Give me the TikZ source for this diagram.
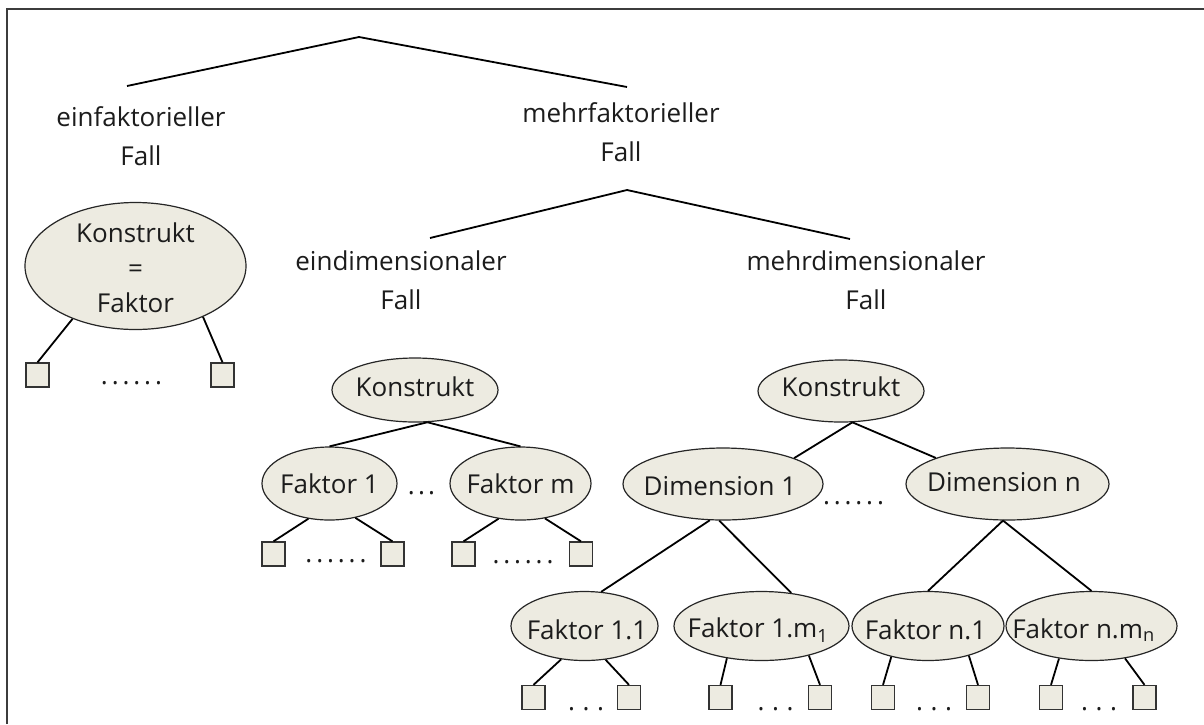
\documentclass[tikz,border=0pt]{standalone}
\usepackage{fontspec}
\setmainfont{Open Sans}
\usetikzlibrary{shapes.geometric}
\definecolor{fillc}{HTML}{EDEBE1}
\definecolor{txt}{HTML}{1C1C1C}
\definecolor{framec}{HTML}{3C3C3C}
\newcommand{\sixdots}{.\kern3.9pt.\kern3.9pt.\kern3.9pt.\kern3.9pt.\kern3.9pt.}
\newcommand{\threedots}{.\kern3.2pt.\kern3.2pt.}
\newcommand{\widedots}{.\kern7.6pt.\kern7.6pt.}
\tikzset{
  ell/.style={ellipse, draw=black!85, line width=1.2pt, fill=fillc, inner sep=0pt},
  lbl/.style={inner sep=0pt, text=txt, align=center, font=\fontsize{26}{39}\selectfont},
  elbl/.style={inner sep=0pt, text=txt, align=center, font=\fontsize{26}{35}\selectfont},
  sq/.style={rectangle, draw=black!80, line width=1.3pt, fill=fillc, minimum width=23pt, minimum height=24pt, inner sep=0pt},
  conn/.style={line width=1.8pt, black},
  dotsty/.style={inner sep=0pt, text=txt, font=\fontsize{26}{30}\selectfont},
  framel/.style={line width=2pt, framec}
}
\begin{document}
\begin{tikzpicture}[x=1pt, y=-1pt]
\useasboundingbox (0,0) rectangle (1204,724);
\fill[white] (0,0) rectangle (1204,724);
% frame
\coordinate (fr1) at (7,9);
\coordinate (fr2) at (1204,9);
\coordinate (fr3) at (7,724);
\draw[framel] (fr3) -- (fr1) -- (fr2);

% top level
\coordinate (apex1) at (359,37);
\coordinate (einfEnd) at (127,86);
\coordinate (mehrEnd) at (627,87);
\node[lbl] (einf) at (141,136) {einfaktorieller\\Fall};
\node[lbl] (mehrf) at (621,132) {mehrfaktorieller\\Fall};
\draw[conn] (einfEnd) -- (apex1) -- (mehrEnd);

\coordinate (apex2) at (627,190);
\coordinate (eindEnd) at (430,238);
\coordinate (mdimEnd) at (850,239);
\node[lbl] (eind) at (401,280) {eindimensionaler\\Fall};
\node[lbl] (mdim) at (866,280) {mehrdimensionaler\\Fall};
\draw[conn] (eindEnd) -- (apex2) -- (mdimEnd);

% einfaktorieller Fall
\node[ell, minimum width=221pt, minimum height=127pt] (e0) at (135.5,266) {};
\node[elbl] (e0t) at (135.5,268) {Konstrukt\\=\\Faktor};
\node[sq] (s01) at (37.5,375) {};
\node[sq] (s02) at (222.5,375) {};
\node[dotsty] (d0) at (131.5,383) {\sixdots};
\draw[conn] (e0.-140.7) -- (s01.north);
\draw[conn] (e0.-37.7) -- (s02.north);

% eindimensionaler Fall
\node[ell, minimum width=166pt, minimum height=64pt] (kons1) at (415,390) {};
\node[lbl] (kons1t) at (415,387) {Konstrukt};
\node[ell, minimum width=135pt, minimum height=73pt] (fa1) at (329.5,483.5) {};
\node[lbl] (fa1t) at (329.5,484) {Faktor 1};
\node[ell, minimum width=141pt, minimum height=73pt] (fam) at (520.5,483.5) {};
\node[lbl] (famt) at (520.5,484) {Faktor m};
\node[dotsty] (dm) at (421.5,493) {\threedots};
\draw[conn] (kons1.-69) -- (fa1.north);
\draw[conn] (kons1.-69) -- (fam.north);
\node[sq] (s11) at (273.5,554) {};
\node[sq] (s12) at (392.5,554) {};
\node[sq] (s21) at (463.5,554) {};
\node[sq] (s22) at (581,554) {};
\node[dotsty] (d1) at (336,561) {\sixdots};
\node[dotsty] (d2) at (523,562) {\sixdots};
\draw[conn] (fa1.-121) -- (s11.north);
\draw[conn] (fa1.-53) -- (s12.north);
\draw[conn] (fam.-122) -- (s21.north);
\draw[conn] (fam.-55) -- (s22.north);

% mehrdimensionaler Fall
\node[ell, minimum width=166pt, minimum height=62pt] (kons2) at (841,391) {};
\node[lbl] (kons2t) at (841,387) {Konstrukt};
\node[ell, minimum width=200pt, minimum height=72pt] (dim1) at (723,484) {};
\node[lbl] (dim1t) at (720,486) {Dimension 1};
\node[ell, minimum width=203pt, minimum height=72pt] (dimn) at (1007.5,484) {};
\node[lbl] (dimnt) at (1004,482) {Dimension n};
\node[dotsty] (dd) at (853.5,503) {\sixdots};
\draw[conn] (kons2.-70) -- (dim1.20);
\draw[conn] (kons2.-70) -- (dimn.160);

\node[ell, minimum width=147pt, minimum height=69pt] (f11) at (584.5,626) {};
\node[lbl] (f11t) at (587,630) {Faktor 1.1};
\node[ell, minimum width=175pt, minimum height=69pt] (f1m) at (761.5,626) {};
\node[lbl] (f1mt) at (758,630) {Faktor 1.m\textsubscript{1}};
\node[ell, minimum width=152pt, minimum height=69pt] (fn1) at (928,626) {};
\node[lbl] (fn1t) at (925.5,630) {Faktor n.1};
\node[ell, minimum width=171pt, minimum height=69pt] (fnm) at (1091.5,626) {};
\node[lbl] (fnmt) at (1083.5,630) {Faktor n.m\textsubscript{n}};

\draw[conn] (dim1.-110) -- (f11.64);
\draw[conn] (dim1.-96) -- (f1m.48);
\draw[conn] (dimn.-97) -- (fn1.north);
\draw[conn] (dimn.-97) -- (fnm.north);

\node[sq] (s31) at (533.5,697.5) {};
\node[sq] (s32) at (629,697.5) {};
\node[sq] (s41) at (720.5,697.5) {};
\node[sq] (s42) at (820,697.5) {};
\node[sq] (s51) at (883,697.5) {};
\node[sq] (s52) at (978,697.5) {};
\node[sq] (s61) at (1051,697.5) {};
\node[sq] (s62) at (1144.5,697.5) {};
\node[dotsty] (d3) at (586,709) {\widedots};
\node[dotsty] (d4) at (775.5,709) {\widedots};
\node[dotsty] (d5) at (934,709) {\widedots};
\node[dotsty] (d6) at (1099,709) {\widedots};
\draw[conn] (f11.-125.7) -- (s31.north);
\draw[conn] (f11.-58.2) -- (s32.north);
\draw[conn] (f1m.-137.4) -- (s41.north);
\draw[conn] (f1m.-32.1) -- (s42.north);
\draw[conn] (fn1.-140.9) -- (s51.north);
\draw[conn] (fn1.-36.2) -- (s52.north);
\draw[conn] (fnm.-135.5) -- (s61.north);
\draw[conn] (fnm.-44.5) -- (s62.north);
\end{tikzpicture}
\end{document}
